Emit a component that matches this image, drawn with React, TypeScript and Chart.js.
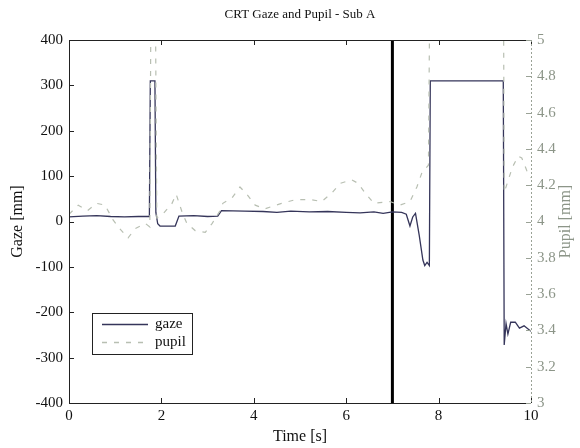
import React, { useEffect, useRef } from "react";
import { Chart, registerables } from "chart.js";

Chart.register(...registerables);

const titleText = "CRT Gaze and Pupil - Sub A";
const xLabel = "Time [s]";
const yLabel = "Gaze [mm]";
const y2Label = "Pupil [mm]";

const xTicks = [0, 2, 4, 6, 8, 10];
const gazeTicks = [-400, -300, -200, -100, 0, 100, 200, 300, 400];
const pupilTicks = [3, 3.2, 3.4, 3.6, 3.8, 4, 4.2, 4.4, 4.6, 4.8, 5];

const gazeT = [0, 0.3, 0.6, 0.9, 1.2, 1.5, 1.74, 1.76, 1.86, 1.88, 1.92, 1.97, 2.3, 2.38, 2.7, 3.0, 3.22, 3.3, 3.8, 4.2, 4.5, 4.8, 5.2, 5.6, 6.0, 6.3, 6.6, 6.8, 7.0, 7.2, 7.3, 7.38, 7.44, 7.5, 7.58, 7.66, 7.7, 7.75, 7.8, 7.82, 9.4, 9.42, 9.46, 9.5, 9.56, 9.66, 9.75, 9.85, 9.95, 10];
const gazeV = [10, 12, 13, 11, 10, 11, 11, 310, 310, 20, -5, -10, -10, 12, 13, 11, 12, 24, 23, 22, 20, 23, 21, 22, 20, 19, 21, 18, 21, 20, 16, -10, 10, 18, -30, -85, -97, -90, -97, 310, 310, -272, -225, -248, -222, -222, -235, -230, -238, -242];

const pupilT = [0, 0.2, 0.4, 0.6, 0.78, 0.95, 1.1, 1.28, 1.43, 1.65, 1.75, 1.78, 1.86, 1.9, 2.03, 2.23, 2.32, 2.45, 2.55, 2.73, 2.95, 3.1, 3.27, 3.33, 3.53, 3.7, 3.85, 4.03, 4.24, 4.6, 4.9, 5.25, 5.47, 5.7, 5.87, 6.12, 6.26, 6.4, 6.6, 6.95, 7.16, 7.38, 7.53, 7.64, 7.78, 7.82, 9.4, 9.42, 9.6, 9.72, 9.8, 9.91, 10];
const pupilV = [4.04, 4.09, 4.06, 4.1, 4.09, 4.01, 3.96, 3.91, 3.96, 3.99, 3.97, 5.6, 5.6, 4.02, 4.04, 4.1, 4.15, 4.05, 3.99, 3.95, 3.94, 3.99, 4.06, 4.1, 4.13, 4.19, 4.15, 4.09, 4.07, 4.1, 4.12, 4.12, 4.11, 4.16, 4.21, 4.23, 4.21, 4.16, 4.1, 4.11, 4.09, 4.11, 4.19, 4.27, 4.31, 5.6, 5.6, 4.16, 4.3, 4.36, 4.35, 4.28, 4.24];

const markerT = [7, 7];
const markerV = [-400, 400];

const FONT = "'Liberation Serif', 'Times New Roman', serif";
const GAZE_COLOR = "#35355a";
const PUPIL_COLOR = "#b8bfb2";
const PUPIL_TEXT = "#8c9588";

const decorPlugin = {
  id: "decor",
  afterDatasetsDraw(chart: any) {
    const ctx = chart.ctx;
    const a = chart.chartArea;
    const xs = chart.scales.x;
    const ys = chart.scales.y;
    const y2 = chart.scales.y2;
    ctx.save();
    // frame
    ctx.strokeStyle = "#222";
    ctx.lineWidth = 1;
    ctx.setLineDash([]);
    ctx.beginPath();
    ctx.moveTo(a.left + 0.5, a.top + 0.5);
    ctx.lineTo(a.right, a.top + 0.5);
    ctx.moveTo(a.left + 0.5, a.top);
    ctx.lineTo(a.left + 0.5, a.bottom + 0.5);
    ctx.lineTo(a.right, a.bottom + 0.5);
    ctx.stroke();
    // ticks x (bottom & top)
    ctx.beginPath();
    xTicks.forEach((v) => {
      const px = Math.round(xs.getPixelForValue(v)) + 0.5;
      ctx.moveTo(px, a.bottom);
      ctx.lineTo(px, a.bottom - 5);
      ctx.moveTo(px, a.top);
      ctx.lineTo(px, a.top + 5);
    });
    gazeTicks.forEach((v) => {
      const py = Math.round(ys.getPixelForValue(v)) + 0.5;
      ctx.moveTo(a.left, py);
      ctx.lineTo(a.left + 5, py);
    });
    ctx.stroke();
    // right axis dashed
    ctx.strokeStyle = "#9aa296";
    ctx.setLineDash([2, 2]);
    ctx.beginPath();
    ctx.moveTo(a.right + 0.5, a.top);
    ctx.lineTo(a.right + 0.5, a.bottom);
    ctx.stroke();
    ctx.setLineDash([]);
    ctx.beginPath();
    pupilTicks.forEach((v) => {
      const py = Math.round(y2.getPixelForValue(v)) + 0.5;
      ctx.moveTo(a.right, py);
      ctx.lineTo(a.right - 5, py);
    });
    ctx.stroke();

    // legend
    const lx = 92, ly = 313, lw = 100, lh = 41;
    ctx.fillStyle = "#fff";
    ctx.fillRect(lx, ly, lw, lh);
    ctx.strokeStyle = "#222";
    ctx.lineWidth = 1;
    ctx.strokeRect(lx + 0.5, ly + 0.5, lw, lh);
    ctx.strokeStyle = GAZE_COLOR;
    ctx.lineWidth = 1.3;
    ctx.beginPath();
    ctx.moveTo(lx + 10, ly + 11.5);
    ctx.lineTo(lx + 56, ly + 11.5);
    ctx.stroke();
    ctx.strokeStyle = PUPIL_COLOR;
    ctx.setLineDash([5, 7]);
    ctx.beginPath();
    ctx.moveTo(lx + 10, ly + 29.5);
    ctx.lineTo(lx + 56, ly + 29.5);
    ctx.stroke();
    ctx.setLineDash([]);
    ctx.fillStyle = "#111";
    ctx.font = `15px ${FONT}`;
    ctx.textAlign = "left";
    ctx.textBaseline = "middle";
    ctx.fillText("gaze", lx + 63, ly + 11);
    ctx.fillText("pupil", lx + 63, ly + 29);

    // titles
    ctx.textAlign = "center";
    ctx.font = `13px ${FONT}`;
    ctx.fillText(titleText, (a.left + a.right) / 2, 15);
    ctx.font = `16px ${FONT}`;
    ctx.fillText(xLabel, (a.left + a.right) / 2, 437);
    ctx.save();
    ctx.translate(18, (a.top + a.bottom) / 2);
    ctx.rotate(-Math.PI / 2);
    ctx.fillText(yLabel, 0, 0);
    ctx.restore();
    ctx.save();
    ctx.fillStyle = PUPIL_TEXT;
    ctx.translate(566, (a.top + a.bottom) / 2);
    ctx.rotate(-Math.PI / 2);
    ctx.fillText(y2Label, 0, 0);
    ctx.restore();
    ctx.restore();
  },
};

function toPts(t: number[], v: number[]) {
  return t.map((x, i) => ({ x, y: v[i] }));
}

export default function App() {
  const ref = useRef<HTMLCanvasElement | null>(null);
  useEffect(() => {
    document.body.style.margin = "0";
    if (!ref.current) return;
    const chart = new Chart(ref.current, {
      type: "scatter",
      data: {
        datasets: [
          {
            label: "pupil",
            data: toPts(pupilT, pupilV),
            yAxisID: "y2",
            showLine: true,
            borderColor: PUPIL_COLOR,
            borderWidth: 1.2,
            borderDash: [5, 7],
            pointRadius: 0,
            tension: 0,
          },
          {
            label: "gaze",
            data: toPts(gazeT, gazeV),
            yAxisID: "y",
            showLine: true,
            borderColor: GAZE_COLOR,
            borderWidth: 1.3,
            pointRadius: 0,
            tension: 0,
          },
          {
            label: "marker",
            data: toPts(markerT, markerV),
            yAxisID: "y",
            showLine: true,
            borderColor: "#000",
            borderWidth: 3,
            pointRadius: 0,
          },
        ],
      },
      options: {
        responsive: false,
        animation: false,
        layout: { padding: { top: 40, left: 0, right: 0, bottom: 0 } },
        plugins: { legend: { display: false }, tooltip: { enabled: false }, title: { display: false } },
        scales: {
          x: {
            type: "linear",
            min: 0,
            max: 10,
            grid: { display: false, drawTicks: false },
            border: { display: false },
            ticks: { stepSize: 2, padding: 4, color: "#111", font: { family: FONT, size: 15 }, maxRotation: 0 },
            afterFit: (s: any) => { s.height = 45; },
          },
          y: {
            position: "left",
            min: -400,
            max: 400,
            grid: { display: false, drawTicks: false },
            border: { display: false },
            ticks: { stepSize: 100, padding: 6, color: "#111", font: { family: FONT, size: 15 } },
            afterFit: (s: any) => { s.width = 69; },
          },
          y2: {
            position: "right",
            min: 3,
            max: 5,
            grid: { display: false, drawTicks: false },
            border: { display: false },
            ticks: {
              stepSize: 0.2,
              padding: 6,
              color: PUPIL_TEXT,
              font: { family: FONT, size: 15 },
              callback: (v: any) => String(Math.round(Number(v) * 10) / 10),
            },
            afterFit: (s: any) => { s.width = 49; },
          },
        },
      },
      plugins: [decorPlugin],
    } as any);
    return () => chart.destroy();
  }, []);
  return <canvas ref={ref} width={580} height={448} style={{ display: "block" }} />;
}
